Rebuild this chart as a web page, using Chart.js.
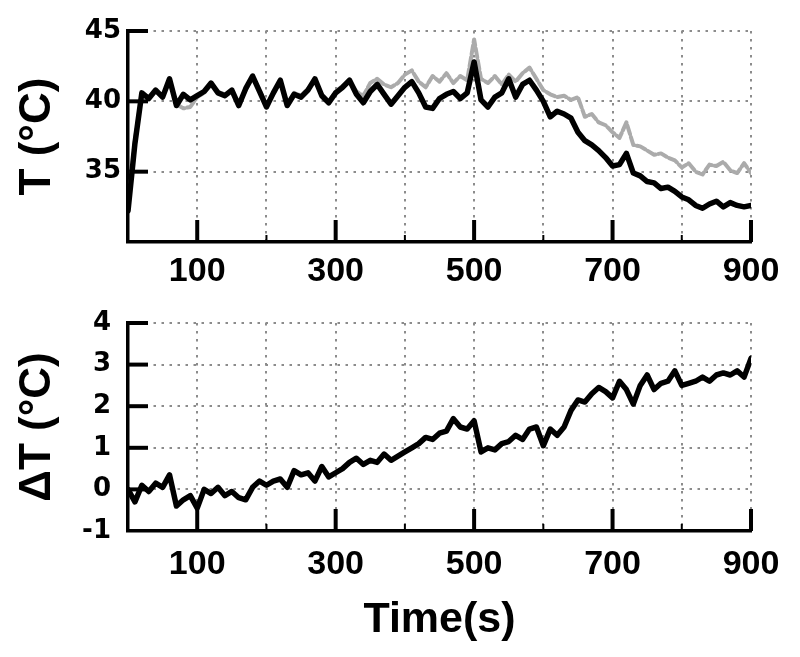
<!DOCTYPE html>
<html><head><meta charset="utf-8">
<script src="https://cdn.jsdelivr.net/npm/chart.js@4.4.1/dist/chart.umd.min.js"></script>
<style>
html,body{margin:0;padding:0;background:#fff;}
#wrap{position:relative;width:800px;height:657px;overflow:hidden;background:#fff;}
#c1{position:absolute;left:0;top:0;}
#c2{position:absolute;left:0;top:290px;}
</style></head><body>
<div id="wrap"><canvas id="c1" width="800" height="290"></canvas><canvas id="c2" width="800" height="367"></canvas></div>
<script>
// ---- data ----
const time = [0,10,20,30,40,50,60,70,80,90,100,110,120,130,140,150,160,170,180,190,200,210,220,230,240,250,260,270,280,290,300,310,320,330,340,350,360,370,380,390,400,410,420,430,440,450,460,470,480,490,500,510,520,530,540,550,560,570,580,590,600,610,620,630,640,650,660,670,680,690,700,710,720,730,740,750,760,770,780,790,800,810,820,830,840,850,860,870,880,890,900];
const tBlack = [32.2,37.0,40.6,40.2,40.8,40.3,41.6,39.7,40.5,40.1,
  40.4,40.7,41.3,40.6,40.4,40.8,39.7,40.9,41.8,40.7,
  39.6,40.6,41.5,39.7,40.5,40.3,40.8,41.6,40.4,39.9,
  40.6,41.0,41.5,40.5,39.9,40.7,41.2,40.5,39.8,40.4,
  41.0,41.4,40.6,39.6,39.5,40.2,40.5,40.7,40.2,40.6,
  42.8,40.1,39.6,40.3,40.6,41.6,40.3,41.2,41.5,40.8,
  40.0,38.9,39.3,39.1,38.8,37.8,37.2,36.9,36.5,36.0,
  35.4,35.5,36.3,34.9,34.7,34.3,34.2,33.8,33.9,33.6,
  33.2,33.0,32.6,32.4,32.7,32.9,32.5,32.8,32.6,32.5,32.6];
const tGray = [32.3,37.3,40.5,40.3,40.7,40.4,41.4,39.8,39.5,39.6,
  40.3,40.6,41.2,40.7,40.5,40.7,39.8,40.8,41.7,40.8,
  39.7,40.5,41.4,39.8,40.6,40.4,40.9,41.5,40.5,40.0,
  40.7,41.1,41.4,40.7,40.4,41.3,41.6,41.2,41.0,41.3,
  41.9,42.2,41.4,41.0,41.8,41.4,42.0,41.3,41.8,41.5,
  44.4,41.6,41.3,41.8,41.2,41.9,41.4,42.0,42.4,41.6,
  40.8,40.5,40.3,40.4,40.1,40.3,38.9,39.1,38.5,38.3,
  37.8,37.4,38.5,36.9,36.8,36.5,36.2,36.3,36.0,35.8,
  35.3,35.6,35.0,34.8,35.5,35.4,35.7,35.1,34.9,35.6,34.9];
const deltaT = [0.0,-0.3,0.1,-0.05,0.15,0.05,0.35,-0.4,-0.25,-0.15,
  -0.45,0.0,-0.1,0.05,-0.15,-0.05,-0.2,-0.25,0.05,0.2,
  0.1,0.2,0.25,0.05,0.45,0.35,0.4,0.2,0.55,0.3,
  0.4,0.5,0.65,0.75,0.6,0.7,0.65,0.85,0.7,0.8,
  0.9,1.0,1.1,1.25,1.2,1.35,1.4,1.7,1.5,1.45,
  1.65,0.9,1.0,0.95,1.1,1.15,1.3,1.2,1.45,1.5,
  1.05,1.45,1.3,1.5,1.9,2.15,2.1,2.3,2.45,2.35,
  2.2,2.6,2.4,2.05,2.5,2.75,2.4,2.55,2.6,2.85,
  2.5,2.55,2.6,2.7,2.6,2.75,2.8,2.75,2.85,2.7,3.15];
const xGrid = [0,100,200,300,400,500,600,700,800,900];
const xTickLabels = [100,300,500,700,900];
const topYGrid = [30,35,40,45];
const topYTickLabels = [35,40,45];
const bottomYGrid = [-1,0,1,2,3,4];
const bottomYTickLabels = [-1,0,1,2,3,4];

// ---- styling ----
const SANS = '"Liberation Sans", Arial, Helvetica, sans-serif';
const NUMY = '"DejaVu Sans", sans-serif';
const GRID = {color:'#8c8c8c', lineWidth:2, drawTicks:false};
const BORDER = {display:true, color:'#000', width:3.5, dash:[2.5,5.5]};

function pts(arr){ return time.map((t,i)=>({x:t, y:arr[i]})); }

const innerTicks = {
  id:'innerTicks',
  beforeDatasetsDraw(chart, args, opts){
    const {ctx, chartArea:a, scales:{x, y}} = chart;
    ctx.save();
    ctx.strokeStyle = '#000';
    ctx.lineCap = 'butt';
    opts.yMarks.forEach(v=>{
      const py = y.getPixelForValue(v);
      ctx.lineWidth = 4;
      ctx.beginPath(); ctx.moveTo(a.left, py); ctx.lineTo(a.left + 20, py); ctx.stroke();
    });
    x.ticks.forEach(t=>{
      if (t.value === 0) return;
      const major = xTickLabels.includes(t.value);
      const px = x.getPixelForValue(t.value);
      ctx.lineWidth = major ? 4 : 2;
      const len = major ? 22 : 7;
      ctx.beginPath(); ctx.moveTo(px, a.bottom); ctx.lineTo(px, a.bottom - len); ctx.stroke();
    });
    ctx.restore();
  }
};

function makeOptions(c){
  return {
    responsive:false, animation:false, devicePixelRatio:1,
    layout:{padding:{top:c.padTop, right:49, left:0, bottom:0}},
    plugins:{legend:{display:false}, tooltip:{enabled:false}, innerTicks:{yMarks:c.yMarks}},
    elements:{point:{radius:0}, line:{tension:0, borderJoinStyle:'round', borderCapStyle:'round'}},
    scales:{
      x:{
        type:'linear', min:0, max:900,
        afterBuildTicks:s=>{ s.ticks = xGrid.map(v=>({value:v})); },
        ticks:{autoSkip:false, maxRotation:0, padding:c.xPad, color:'#000',
          font:{family:SANS, size:34, weight:'bold', lineHeight:1},
          callback:v=>xTickLabels.includes(v) ? String(v) : ''},
        grid:GRID, border:BORDER,
        title:c.xTitle ? {display:true, text:c.xTitle, color:'#000',
          font:{family:SANS, size:43, weight:'bold', lineHeight:1}, padding:{top:0, bottom:15}} : {display:false},
        afterFit:s=>{ s.height = c.xH; }
      },
      y:{
        type:'linear', min:c.yMin, max:c.yMax,
        afterBuildTicks:s=>{ s.ticks = c.yGrid.map(v=>({value:v})); },
        ticks:{padding:c.yPad, color:'#000',
          font:{family:NUMY, size:26, weight:'bold', lineHeight:1},
          callback:v=>c.yLabels.includes(v) ? String(v) : ''},
        grid:GRID, border:BORDER,
        title:{display:true, text:c.yTitle, color:'#000',
          font:{family:SANS, size:44, weight:'bold', lineHeight:1}, padding:{top:16, bottom:0}},
        afterFit:s=>{ s.width = 128; }
      }
    }
  };
}

new Chart(document.getElementById('c1'), {
  type:'line',
  data:{datasets:[
    {label:'T', data:pts(tBlack), borderColor:'#000', borderWidth:5.5, fill:false},
    {label:'T ref', data:pts(tGray), borderColor:'#ababab', borderWidth:4, borderDash:[9,3], fill:false}
  ]},
  options:makeOptions({padTop:31, xH:48, xPad:13, yMin:30, yMax:45, yGrid:topYGrid, yLabels:topYTickLabels,
    yMarks:[35,40,45], yPad:7, yTitle:'T (°C)'}),
  plugins:[innerTicks]
});

new Chart(document.getElementById('c2'), {
  type:'line',
  data:{datasets:[
    {label:'ΔT', data:pts(deltaT), borderColor:'#000', borderWidth:5.5, fill:false}
  ]},
  options:makeOptions({padTop:33, xH:126, xPad:17, yMin:-1, yMax:4, yGrid:bottomYGrid, yLabels:bottomYTickLabels,
    yMarks:[0,1,2,3,4], yPad:17, yTitle:'ΔT (°C)', xTitle:'Time(s)'}),
  plugins:[innerTicks]
});
</script>
</body></html>
